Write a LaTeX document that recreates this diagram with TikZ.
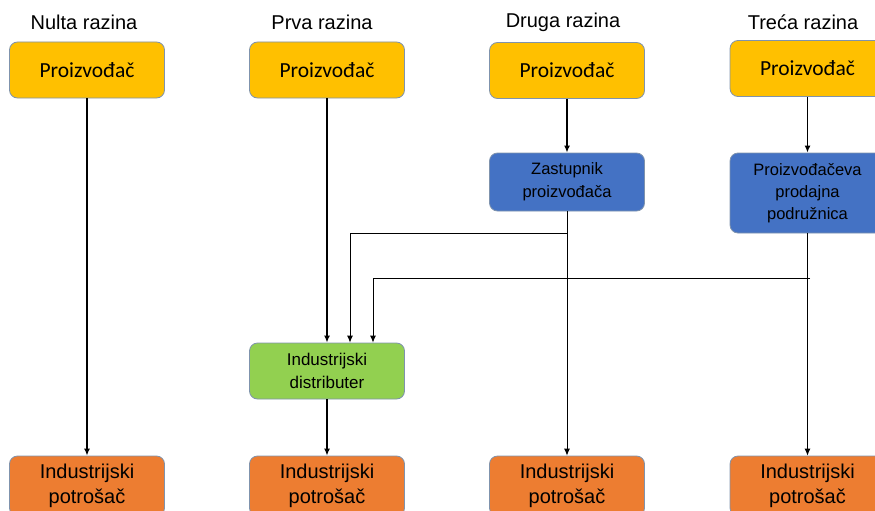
\documentclass[tikz,border=0pt]{standalone}
\usepackage{fontspec}
\setmainfont{Liberation Sans}
\newfontfamily\carlito{Carlito}
\usetikzlibrary{arrows.meta}

\definecolor{zlato}{HTML}{FFC000}
\definecolor{plava}{HTML}{4472C4}
\definecolor{zelena}{HTML}{92D050}
\definecolor{narancasta}{HTML}{ED7D31}
\definecolor{rub}{HTML}{7F93AD}

\begin{document}
\begin{tikzpicture}[x=1pt,y=-1pt,
  razina/.style={font=\fontsize{20}{24}\selectfont},
  kutija/.style={draw=rub,line width=0.8pt,rounded corners=8pt,minimum width=155pt,align=center,inner sep=0pt},
  proizvodac/.style={kutija,fill=zlato,minimum height=56pt,font=\carlito\fontsize{21.5}{26}\selectfont},
  posrednik/.style={kutija,fill=plava,font=\fontsize{16.5}{23}\selectfont},
  distributer/.style={kutija,fill=zelena,minimum height=56pt,font=\fontsize{17}{23}\selectfont},
  potrosac/.style={kutija,fill=narancasta,minimum height=60pt,font=\fontsize{20}{25}\selectfont},
  debela/.style={line width=1.4pt,-{Latex[length=7pt,width=6pt]}},
  tanka/.style={line width=0.9pt,-{Latex[length=7pt,width=6pt]}}]

\useasboundingbox (0,0) rectangle (875,511);

\node[razina] (h0) at (84,22) {Nulta razina};
\node[razina] (h1) at (322,22) {Prva razina};
\node[razina] (h2) at (563,22) {Druga razina};
\node[razina] (h3) at (803,22) {Treća razina};

\node[proizvodac] (p0) at (87,70) {Proizvođač};
\node[proizvodac] (p1) at (327,70) {Proizvođač};
\node[proizvodac] (p2) at (567,70.5) {Proizvođač};
\node[proizvodac] (p3) at (807.5,68.5) {Proizvođač};

\node[posrednik,minimum height=58pt] (zast) at (567,182) {Zastupnik\\proizvođača};
\node[posrednik,minimum height=80pt,font=\fontsize{16.5}{22}\selectfont] (podr) at (807.5,193) {Proizvođačeva\\prodajna\\podružnica};

\node[distributer] (dist) at (327,371) {Industrijski\\distributer};

\node[potrosac] (k0) at (87,486) {Industrijski\\potrošač};
\node[potrosac] (k1) at (327,486) {Industrijski\\potrošač};
\node[potrosac] (k2) at (567,486) {Industrijski\\potrošač};
\node[potrosac] (k3) at (807.5,486) {Industrijski\\potrošač};

\draw[debela] (p0) -- (k0);
\draw[debela] (p1) -- (dist);
\draw[debela] (dist) -- (k1);
\draw[debela] (p2) -- (zast);
\draw[debela] (p3) -- (podr);
\draw[tanka] (zast) -- (k2);
\draw[tanka] (podr) -- (k3);

\coordinate (r1) at (567,233);
\coordinate (r2) at (810,278);
\draw[tanka] (r1) -| ([xshift=23pt]dist.north);
\draw[tanka] (r2) -| ([xshift=46pt]dist.north);

\end{tikzpicture}
\end{document}
